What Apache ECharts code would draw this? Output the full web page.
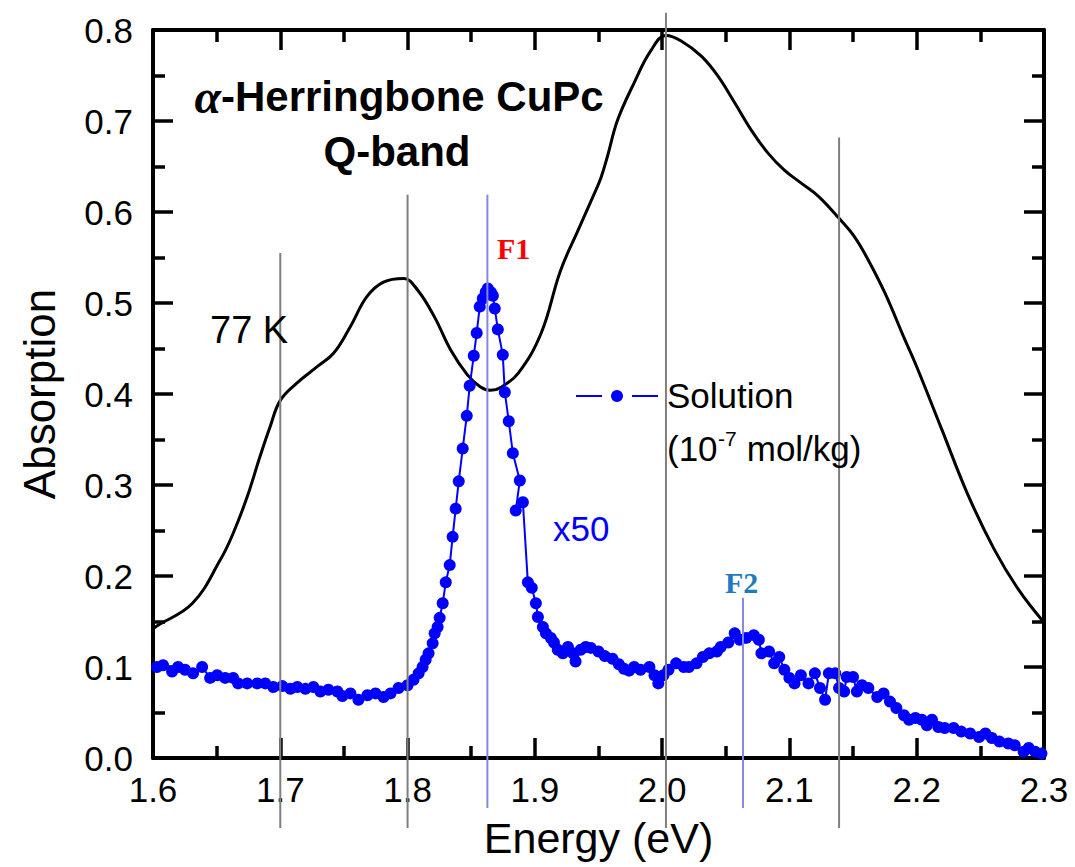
<!DOCTYPE html>
<html>
<head>
<meta charset="utf-8">
<script src="https://cdn.jsdelivr.net/npm/echarts@6/dist/echarts.min.js"></script>
<style>
html,body{margin:0;padding:0;background:#fff;}
#chart{width:1075px;height:867px;}
</style>
</head>
<body>
<div id="chart"></div>
<script>
// 77 K film absorption (black curve): [energy eV, absorption]
const filmE = [1.600,1.603,1.631,1.653,1.663,1.674,1.684,1.692,1.700,1.713,1.729,1.742,1.755,1.768,1.781,1.797,1.808,1.821,1.834,1.847,1.857,1.865,1.873,1.887,1.905,1.920,1.934,1.946,1.952,1.957,1.965,1.978,1.991,2.003,2.015,2.031,2.044,2.057,2.070,2.083,2.096,2.109,2.123,2.139,2.151,2.162,2.175,2.190,2.200,2.220,2.240,2.261,2.280,2.300];
const filmA = [0.142,0.145,0.170,0.218,0.247,0.287,0.331,0.364,0.393,0.412,0.430,0.445,0.474,0.507,0.523,0.527,0.514,0.485,0.448,0.421,0.408,0.404,0.407,0.423,0.467,0.535,0.580,0.618,0.638,0.661,0.701,0.742,0.777,0.794,0.788,0.771,0.749,0.720,0.690,0.665,0.646,0.632,0.617,0.593,0.573,0.547,0.511,0.462,0.430,0.360,0.290,0.229,0.185,0.149];

// Solution absorption x50 (blue dots)
const solE = [1.6031,1.6079,1.6150,1.6197,1.6252,1.6315,1.6386,1.6449,1.6504,1.6567,1.6630,1.6669,1.6740,1.6819,1.6882,1.6945,1.7016,1.7079,1.7134,1.7197,1.7260,1.7315,1.7378,1.7449,1.7488,1.7551,1.7614,1.7685,1.7748,1.7811,1.7866,1.7929,1.8000,1.8047,1.8087,1.8118,1.8142,1.8165,1.8197,1.8213,1.8236,1.8252,1.8276,1.8300,1.8331,1.8354,1.8378,1.8402,1.8433,1.8465,1.8488,1.8520,1.8543,1.8567,1.8591,1.8614,1.8630,1.8654,1.8670,1.8685,1.8709,1.8748,1.8764,1.8795,1.8827,1.8882,1.8850,1.8906,1.8945,1.8976,1.9008,1.9024,1.9063,1.9087,1.9126,1.9150,1.9180,1.9220,1.9260,1.9300,1.9320,1.9360,1.9400,1.9440,1.9500,1.9550,1.9610,1.9660,1.9700,1.9740,1.9780,1.9830,1.9900,1.9940,1.9970,2.0010,2.0050,2.0110,2.0170,2.0210,2.0270,2.0320,2.0370,2.0430,2.0460,2.0520,2.0570,2.0610,2.0660,2.0720,2.0760,2.0780,2.0840,2.0880,2.0920,2.0960,2.1000,2.1040,2.1090,2.1150,2.1200,2.1240,2.1280,2.1310,2.1360,2.1390,2.1430,2.1450,2.1500,2.1530,2.1570,2.1620,2.1690,2.1740,2.1790,2.1840,2.1900,2.1940,2.1990,2.2040,2.2080,2.2120,2.2170,2.2220,2.2290,2.2350,2.2420,2.2490,2.2540,2.2590,2.2650,2.2720,2.2770,2.2840,2.2880,2.2930,2.2980];
const solA = [0.100,0.102,0.095,0.100,0.097,0.093,0.100,0.088,0.091,0.088,0.088,0.082,0.082,0.082,0.082,0.078,0.079,0.076,0.078,0.076,0.078,0.073,0.075,0.073,0.068,0.071,0.064,0.069,0.071,0.067,0.071,0.077,0.080,0.086,0.093,0.100,0.108,0.115,0.126,0.137,0.144,0.154,0.170,0.193,0.212,0.243,0.274,0.304,0.340,0.376,0.409,0.442,0.467,0.496,0.505,0.512,0.516,0.512,0.508,0.494,0.471,0.443,0.402,0.370,0.335,0.305,0.272,0.281,0.193,0.187,0.170,0.155,0.144,0.137,0.132,0.127,0.119,0.115,0.122,0.115,0.106,0.119,0.122,0.121,0.117,0.112,0.109,0.103,0.098,0.096,0.100,0.097,0.100,0.091,0.082,0.091,0.097,0.104,0.100,0.100,0.104,0.111,0.115,0.117,0.122,0.127,0.137,0.130,0.132,0.135,0.130,0.115,0.117,0.104,0.111,0.097,0.088,0.082,0.091,0.082,0.093,0.077,0.064,0.093,0.093,0.077,0.073,0.089,0.089,0.073,0.080,0.077,0.067,0.071,0.062,0.055,0.047,0.042,0.044,0.042,0.036,0.042,0.034,0.033,0.033,0.029,0.027,0.023,0.027,0.022,0.018,0.016,0.014,0.007,0.011,0.007,0.005];

// Vertical guide lines: energy, top, bottom (absorption units)
const grayLineE = [1.700, 1.800, 2.003, 2.139];
const grayLineTop = [0.555, 0.619, 0.819, 0.682];
const grayLineBottom = -0.077;
const blueLineE = [1.8627, 2.0635];
const blueLineTop = [0.619, 0.176];
const blueLineBottom = -0.055;

const xTicks = [1.6, 1.7, 1.8, 1.9, 2.0, 2.1, 2.2, 2.3];
const yTicks = [0.0, 0.1, 0.2, 0.3, 0.4, 0.5, 0.6, 0.7, 0.8];

const FONT = 'Liberation Sans';
const zip = (a, b) => a.map((v, i) => [v, b[i]]);

const series = [];
series.push({
  name: '77 K', type: 'line', data: zip(filmE, filmA), smooth: 0.4, showSymbol: false,
  lineStyle: { color: '#000', width: 3 }, itemStyle: { color: '#000' }, z: 3
});
series.push({
  name: 'Solution', type: 'line', data: zip(solE, solA), symbol: 'circle', symbolSize: 12,
  showAllSymbol: true, lineStyle: { color: '#0000ff', width: 2 },
  itemStyle: { color: '#0000ff', borderWidth: 0 }, z: 4
});
grayLineE.forEach((e, i) => series.push({
  type: 'line', data: [[e, grayLineBottom], [e, grayLineTop[i]]], showSymbol: false, clip: false,
  lineStyle: { color: '#7f7f7f', width: 2 }, z: 6
}));
blueLineE.forEach((e, i) => series.push({
  type: 'line', data: [[e, blueLineBottom], [e, blueLineTop[i]]], showSymbol: false, clip: false,
  lineStyle: { color: '#8686e6', width: 2 }, z: 6
}));

function axisBase(extra) {
  const o = {
    axisLine: { show: true, onZero: false, lineStyle: { color: '#000', width: 4 } },
    axisTick: { show: true, inside: true, length: 20, lineStyle: { color: '#000', width: 3.5 } },
    minorTick: { show: true, splitNumber: 2, length: 12, lineStyle: { color: '#000', width: 3.5 } },
    splitLine: { show: false }
  };
  return Object.assign(o, extra);
}

function txt(x, y, text, font, fill, align) {
  return { type: 'text', x: x, y: y, z: 10, silent: true,
    style: { text: text, font: font, fill: fill, align: align || 'left', verticalAlign: 'middle' } };
}

const option = {
  animation: false,
  grid: { left: 153, right: 31, top: 30, bottom: 109 },
  tooltip: { show: false },
  xAxis: [
    axisBase({
      type: 'value', min: 1.6, max: 2.3, interval: 0.1, position: 'bottom',
      name: 'Energy (eV)', nameLocation: 'middle', nameGap: 58,
      nameTextStyle: { fontFamily: FONT, fontSize: 43, color: '#000' },
      axisLabel: { fontFamily: FONT, fontSize: 35, color: '#000', margin: 14,
        formatter: v => (xTicks.find(t => Math.abs(t - v) < 1e-6) || v).toFixed(1) }
    }),
    axisBase({
      type: 'value', min: 1.6, max: 2.3, interval: 0.1, position: 'top', axisLabel: { show: false }
    })
  ],
  yAxis: [
    axisBase({
      type: 'value', min: 0, max: 0.8, interval: 0.1, position: 'left',
      name: 'Absorption', nameLocation: 'middle', nameGap: 92,
      nameTextStyle: { fontFamily: FONT, fontSize: 44, color: '#000' },
      axisLabel: { fontFamily: FONT, fontSize: 35, color: '#000', margin: 20,
        formatter: v => (yTicks.find(t => Math.abs(t - v) < 1e-6) ?? v).toFixed(1) }
    }),
    axisBase({
      type: 'value', min: 0, max: 0.8, interval: 0.1, position: 'right', axisLabel: { show: false }
    })
  ],
  series: series,
  graphic: [
    txt(221, 96, 'α', 'italic bold 48px "Liberation Serif"', '#000', 'right'),
    txt(221, 96, '-Herringbone CuPc', 'bold 42px "Liberation Sans"', '#000', 'left'),
    txt(397, 151, 'Q-band', 'bold 42px "Liberation Sans"', '#000', 'center'),
    txt(210, 330, '77 K', '38px "Liberation Sans"', '#000'),
    txt(553, 528, 'x50', '35px "Liberation Sans"', '#0000ff'),
    txt(497, 248, 'F1', 'bold 30px "Liberation Serif"', '#ff0000'),
    txt(725, 582, 'F2', 'bold 30px "Liberation Serif"', '#1f7bc1'),
    // legend sample for the Solution series
    { type: 'line', z: 10, silent: true, shape: { x1: 576, y1: 396, x2: 602, y2: 396 }, style: { stroke: '#0000ff', lineWidth: 2 } },
    { type: 'line', z: 10, silent: true, shape: { x1: 632, y1: 396, x2: 658, y2: 396 }, style: { stroke: '#0000ff', lineWidth: 2 } },
    { type: 'circle', z: 10, silent: true, shape: { cx: 617, cy: 396, r: 6 }, style: { fill: '#0000ff' } },
    txt(667, 395, 'Solution', '35px "Liberation Sans"', '#000'),
    txt(667, 448, '(10', '35px "Liberation Sans"', '#000'),
    txt(718, 438, '-7', '21px "Liberation Sans"', '#000'),
    txt(737, 448, ' mol/kg)', '35px "Liberation Sans"', '#000')
  ]
};

const chart = echarts.init(document.getElementById('chart'), null, { renderer: 'svg' });
chart.setOption(option);
</script>
</body>
</html>
